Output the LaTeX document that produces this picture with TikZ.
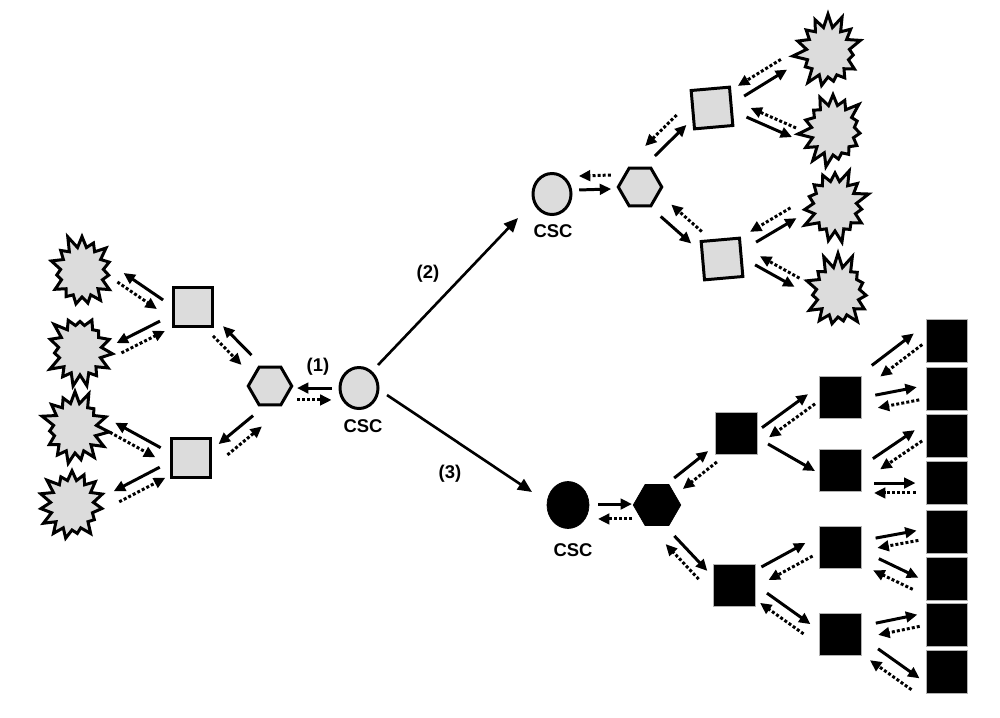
\documentclass[tikz,border=0pt]{standalone}
\usepackage{fontspec}
\setmainfont{Liberation Sans}
\usetikzlibrary{shapes.geometric,shapes.symbols,arrows.meta,calc}
\definecolor{lgray}{RGB}{220,220,220}
\tikzset{
  gnode/.style={draw=black, line width=1.7pt, fill=lgray, inner sep=0pt},
  sqG/.style={gnode, rectangle, minimum size=0.77cm},
  hexG/.style={gnode, regular polygon, regular polygon sides=6, minimum size=0.87cm},
  cscG/.style={gnode, ellipse, minimum width=0.76cm, minimum height=0.82cm},
  burst/.style={gnode, starburst, starburst points=15, starburst point height=0.28cm, minimum width=1.42cm, minimum height=1.56cm, line join=miter},
  bnode/.style={fill=black, draw=black, line width=0.4pt, inner sep=0pt},
  sqB/.style={bnode, draw=gray!60, rectangle, minimum size=0.84cm},
  colB/.style={bnode, draw=gray!60, rectangle, minimum width=0.82cm, minimum height=0.86cm},
  hexB/.style={bnode, regular polygon, regular polygon sides=6, minimum size=0.95cm},
  cscB/.style={bnode, ellipse, minimum width=0.84cm, minimum height=0.94cm},
  lbl/.style={font=\bfseries\fontsize{10.5}{12}\selectfont, inner sep=0pt},
  sol/.style={line width=1.7pt, -{Triangle[length=6.5pt,width=6pt]}},
  dot/.style={line width=1.7pt, dash pattern=on 1.7pt off 1.2pt, -{Triangle[length=6.5pt,width=6pt]}},
  big/.style={line width=1.5pt, -{Triangle[length=8pt,width=7pt]}}
}
% solid P->Q kept on the right of its travel, dotted Q->P on the other side
\newcommand\lnkR[7]{%
  \coordinate (lp) at ($(#1)+(#2,#3)$);
  \coordinate (lq) at ($(#4)+(#5,#6)$);
  \draw[sol] ($(lp)!#7*0.5669pt!-90:(lq)$) -- ($(lq)!#7*0.5669pt!90:(lp)$);
  \draw[dot] ($(lq)!#7*0.5669pt!-90:(lp)$) -- ($(lp)!#7*0.5669pt!90:(lq)$);
}
% solid P->Q kept on the left of its travel
\newcommand\lnkL[7]{%
  \coordinate (lp) at ($(#1)+(#2,#3)$);
  \coordinate (lq) at ($(#4)+(#5,#6)$);
  \draw[sol] ($(lp)!#7*0.5669pt!90:(lq)$) -- ($(lq)!#7*0.5669pt!-90:(lp)$);
  \draw[dot] ($(lq)!#7*0.5669pt!90:(lp)$) -- ($(lp)!#7*0.5669pt!-90:(lq)$);
}
\begin{document}
\begin{tikzpicture}[x=0.02cm, y=-0.02cm]
\useasboundingbox (0,0) rectangle (1000,717);
% ---------- left cluster ----------
\node[cscG] (cscL) at (359,388) {};
\node[lbl] (tL) at (363,426) {CSC};
\node[lbl] (n1) at (318,367) {(1)};
\node[hexG] (hexL) at (270,386) {};
\node[sqG] (sqLU) at (193,307) {};
\node[sqG] (sqLD) at (191,458) {};
\node[burst, random starburst=11] (st1) at (82,272) {};
\node[burst, random starburst=23] (st2) at (80,350) {};
\node[burst, random starburst=37] (st3) at (75,428) {};
\node[burst, random starburst=41] (st4) at (72,505) {};
% ---------- top right cluster ----------
\node[cscG] (cscTR) at (552,194) {};
\node[lbl] (tTR) at (553,231) {CSC};
\node[hexG] (hexTR) at (640,187) {};
\node[sqG, rotate=5] (sqTU) at (712,108) {};
\node[sqG, rotate=5] (sqTD) at (722,259) {};
\node[burst, random starburst=53] (stA) at (828,52) {};
\node[burst, random starburst=67] (stB) at (833,130) {};
\node[burst, random starburst=71] (stC) at (835,206) {};
\node[burst, random starburst=89] (stD) at (838,292) {};
% ---------- bottom right cluster ----------
\node[cscB] (cscB) at (568,505) {};
\node[lbl] (tB) at (573,550) {CSC};
\node[hexB] (hexB) at (657,505) {};
\node[sqB] (sqB1) at (736,433) {};
\node[sqB] (sqB2) at (734,585) {};
\node[sqB] (S1) at (840,397) {};
\node[sqB] (S2) at (840,470) {};
\node[sqB] (S3) at (840,547) {};
\node[sqB] (S4) at (840,634) {};
\node[colB] (R1) at (947,341) {};
\node[colB] (R2) at (947,389) {};
\node[colB] (R3) at (947,436) {};
\node[colB] (R4) at (947,483) {};
\node[colB] (R5) at (947,532) {};
\node[colB] (R6) at (947,579) {};
\node[colB] (R7) at (947,625) {};
\node[colB] (R8) at (947,672) {};
% ---------- main arrows ----------
\draw[big] ([shift={(19,-23)}]cscL.center) -- ([shift={(-34,24)}]cscTR.center);
\draw[big] ([shift={(28,7)}]cscL.center) -- ([shift={(-36,-13)}]cscB.center);
\node[lbl] (n2) at (428,274) {(2)};
\node[lbl] (n3) at (450,474) {(3)};
% ---------- left links ----------
\lnkR{cscL}{-27.5}{6}{hexL}{27}{8}{6}
\lnkR{hexL}{-23.5}{-26}{sqLU}{25}{24}{7}
\lnkR{hexL}{-12.5}{35}{sqLD}{32}{-8.5}{7}
\lnkR{sqLU}{-33}{-2.5}{st1}{38.5}{5.5}{5.5}
\lnkR{sqLU}{-30.5}{19}{st2}{39}{-2}{5.5}
\lnkR{sqLD}{-33}{-5.5}{st3}{37.5}{-0.5}{5.5}
\lnkR{sqLD}{-28.5}{14.5}{st4}{44.5}{-8.5}{6}
% ---------- top right links ----------
\lnkR{cscTR}{27}{-11}{hexTR}{-29}{-5}{7}
\lnkR{hexTR}{10}{-36}{sqTU}{-30.5}{12}{7}
\lnkR{hexTR}{26}{23.5}{sqTD}{-25.5}{-21.5}{8}
\lnkR{sqTU}{29}{-17}{stA}{-44}{12.5}{6}
\lnkR{sqTU}{36.5}{4.5}{stB}{-39}{2.5}{5}
\lnkR{sqTD}{31}{-22}{stC}{-41.5}{7}{6}
\lnkR{sqTD}{35.5}{1.5}{stD}{-41}{-9.5}{5}
% ---------- bottom links ----------
\lnkL{cscB}{30}{6.5}{hexB}{-25}{6.5}{7.5}
\lnkL{hexB}{21.5}{-21.5}{sqB1}{-23.5}{23.5}{7}
\lnkL{hexB}{13}{35}{sqB2}{-31}{-10}{6}
\lnkL{sqB1}{29.5}{-0.5}{S1}{-28.5}{2}{6}
\draw[sol] ([shift={(32,11)}]sqB1.center) -- ([shift={(-25,1)}]S2.center);
\lnkL{sqB2}{31}{-11.5}{S3}{-31}{2.5}{7.5}
\lnkL{sqB2}{29.5}{13}{S4}{-33}{-5}{6}
\lnkL{S1}{36}{-26}{R1}{-29}{-2}{7}
\lnkL{S1}{36.5}{4.5}{R2}{-29}{4.5}{6.5}
\lnkL{S2}{36.5}{-6}{R3}{-28.5}{-0.5}{6.5}
\lnkL{S2}{34}{18}{R4}{-31.5}{5}{5}
\lnkL{S3}{36.5}{-4}{R5}{-29.5}{3.5}{5}
\lnkL{S3}{36}{17.5}{R6}{-31.5}{4.5}{6.5}
\lnkL{S4}{37}{-5}{R7}{-28.5}{-4.5}{6}
\lnkL{S4}{34}{20.5}{R8}{-31.5}{12}{7}
\end{tikzpicture}
\end{document}
